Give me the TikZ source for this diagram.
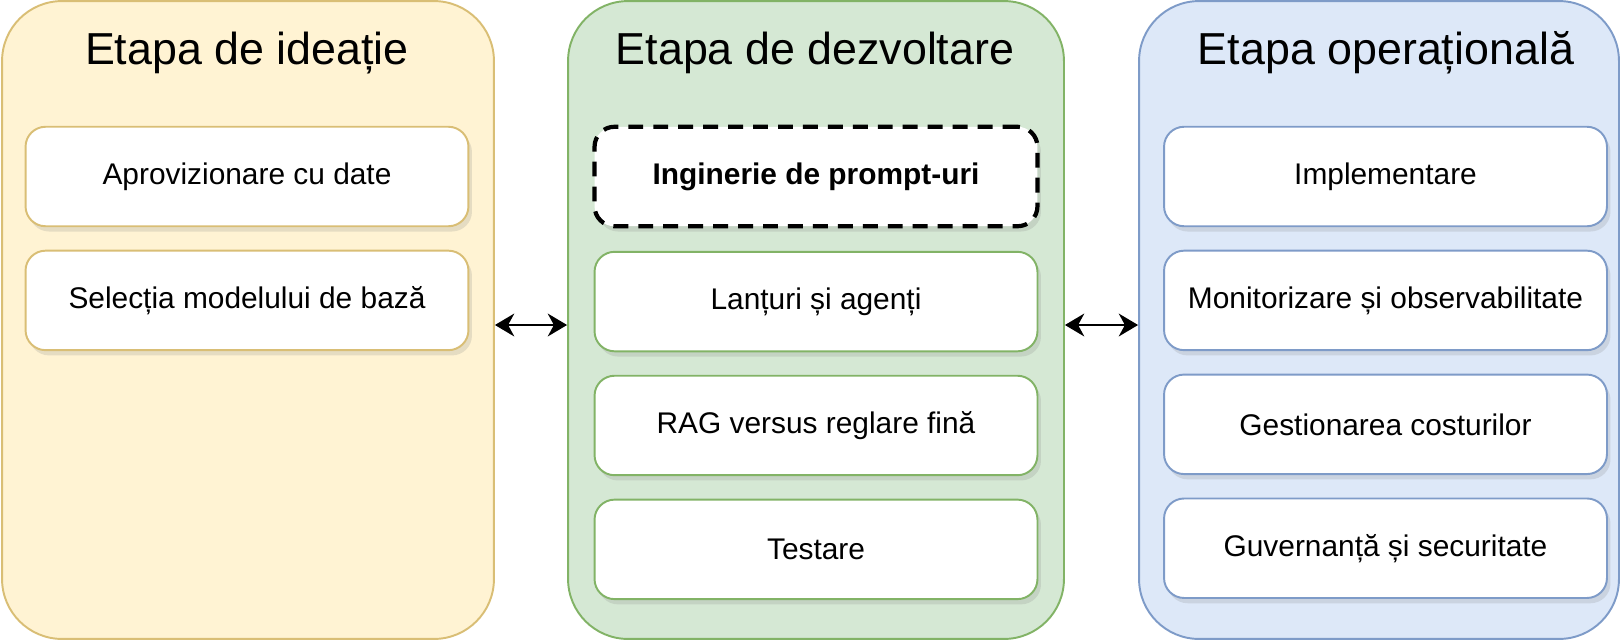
\documentclass[tikz,border=0pt]{standalone}
\usepackage{fontspec}
\setmainfont{Liberation Sans}
\usetikzlibrary{positioning,shadows,arrows.meta}
\definecolor{ideafill}{HTML}{FFF3D3}
\definecolor{ideadraw}{HTML}{D9BE75}
\definecolor{devfill}{HTML}{D5E8D4}
\definecolor{devdraw}{HTML}{82B366}
\definecolor{opfill}{HTML}{DDE8F8}
\definecolor{opdraw}{HTML}{7E9BC8}
\tikzset{
  phase/.style={draw=#1draw, fill=#1fill, line width=1.1pt, rounded corners=1.2cm, minimum height=12.76cm},
  phasetitle/.style={anchor=base, font=\fontsize{25.5}{30}\selectfont},
  card/.style={draw=#1draw, fill=white, line width=1.1pt, rounded corners=0.4cm,
    minimum width=8.86cm, minimum height=1.99cm, font=\fontsize{17}{20}\selectfont,
    drop shadow={opacity=0.2, shadow xshift=2pt, shadow yshift=-3pt}},
  keycard/.style={draw=black, line width=2.4pt, dash pattern=on 8.5pt off 5.7pt,
    font=\fontsize{17}{20}\selectfont\bfseries},
  link/.style={{Stealth[length=11pt,width=13pt,inset=3.5pt]}-{Stealth[length=11pt,width=13pt,inset=3.5pt]}, line width=1.1pt}
}
\begin{document}
\begin{tikzpicture}[x=0.02cm,y=-0.02cm]
        \useasboundingbox (0,0) rectangle (1621,640);
        % etape
        \node[phase=idea, minimum width=9.84cm] (ideatie) at (248,320) {};
        \node[phase=dev, minimum width=9.92cm] (dezvoltare) at (816,320) {};
        \node[phase=op, minimum width=9.6cm] (operare) at (1379,320) {};
        \node[phasetitle] (tideatie) at (247,64) {Etapa de ideație};
        \node[phasetitle] (tdezvoltare) at (815,64) {Etapa de dezvoltare};
        \node[phasetitle] (toperare) at (1386,64) {Etapa operațională};
        % ideatie
        \node[card=idea] (date) at (247,176.5) {Aprovizionare cu date};
        \node[card=idea, below=0.45cm of date] (model) {Selecția modelului de bază};
        % dezvoltare
        \node[card=dev, keycard] (prompt) at (816,176.5) {Inginerie de prompt-uri};
        \node[card=dev, below=0.45cm of prompt] (lant) {Lanțuri și agenți};
        \node[card=dev, below=0.45cm of lant] (rag) {RAG versus reglare fină};
        \node[card=dev, below=0.45cm of rag] (test) {Testare};
        % operare
        \node[card=op] (impl) at (1385.5,176.5) {Implementare};
        \node[card=op, below=0.45cm of impl] (monit) {Monitorizare și observabilitate};
        \node[card=op, below=0.45cm of monit] (cost) {Gestionarea costurilor};
        \node[card=op, below=0.45cm of cost] (guv) {Guvernanță și securitate};
        % legaturi
        \draw[link] ([yshift=-0.1cm]ideatie.east) -- ([yshift=-0.1cm]dezvoltare.west);
        \draw[link] ([yshift=-0.1cm]dezvoltare.east) -- ([yshift=-0.1cm]operare.west);
    \end{tikzpicture}
\end{document}
